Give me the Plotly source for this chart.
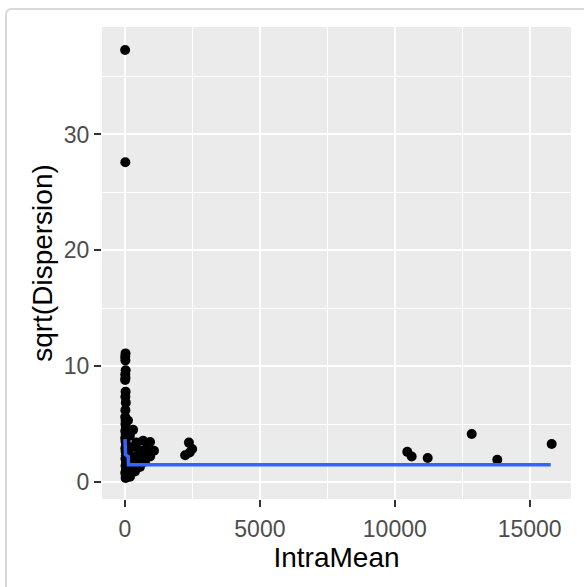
import plotly.graph_objects as go

# ---- data ----
col_x = [5, 12, 20, 8, 15, 25, 10, 18, 6, 22, 14, 30, 9, 26, 16, 35, 11, 28, 7, 19,
         40, 13, 24, 33, 17, 45, 21, 38, 10, 29, 50, 15, 42, 23]
col_y = [37.3, 27.6, 11.1, 10.8, 10.5, 9.65, 9.3, 9.0, 8.8, 7.8, 7.35, 6.85, 5.6, 5.3,
         5.0, 4.7, 4.4, 4.1, 3.8, 3.5, 3.2, 2.9, 2.6, 2.3, 2.0, 1.7, 1.4, 1.1, 0.8,
         0.55, 0.4, 6.2, 1.25, 0.35]

spread_x = [110, 300, 180, 670, 930, 1075, 420, 250, 800, 930, 740, 555, 370, 185,
            600, 400, 250, 450, 150, 300, 520, 700, 120]
spread_y = [5.3, 4.5, 4.0, 3.56, 3.45, 2.7, 3.4, 3.0, 2.9, 2.2, 1.75, 1.3, 0.9, 0.45,
            2.5, 2.2, 1.8, 1.7, 1.2, 1.4, 2.75, 2.3, 2.5]

mid_x = [2370, 2490, 2230, 2400]
mid_y = [3.4, 2.85, 2.3, 2.55]

far_x = [10463, 10626, 11219, 12850, 13799, 15815]
far_y = [2.6, 2.2, 2.07, 4.14, 1.92, 3.28]

smooth_x = [0, 20, 120, 130, 15780]
smooth_y = [3.7, 2.35, 2.2, 1.49, 1.49]

x_ticks = [0, 5000, 10000, 15000]
y_ticks = [0, 10, 20, 30]

xs = col_x + spread_x + mid_x + far_x
ys = col_y + spread_y + mid_y + far_y

FONT = "Arial, 'Liberation Sans', sans-serif"

fig = go.Figure()
fig.add_trace(go.Scatter(x=xs, y=ys, mode="markers",
                         marker=dict(color="black", size=10, line=dict(width=0)),
                         showlegend=False, hoverinfo="skip"))
fig.add_trace(go.Scatter(x=smooth_x, y=smooth_y, mode="lines",
                         line=dict(color="#3366FF", width=3.5),
                         showlegend=False, hoverinfo="skip"))

W, H = 584, 587
L, R, T, B = 102, 13, 27, 88
pw, ph = W - L - R, H - T - B

def px(xp):
    return (xp - L) / pw

def py(yp):
    return (H - B - yp) / ph

# rounded frame around the chart (extends beyond right/bottom edges)
x0, x1 = px(6), px(600)
y0, y1 = py(9), py(610)
rx, ry = 6 / pw, 6 / ph
path = (f"M {x0+rx},{y0} L {x1},{y0} L {x1},{y1} L {x0},{y1} L {x0},{y0-ry} "
        f"Q {x0},{y0} {x0+rx},{y0} Z")
fig.add_shape(type="path", path=path, xref="paper", yref="paper",
              line=dict(color="#D9D9D9", width=2), fillcolor="rgba(0,0,0,0)",
              layer="above")

axis_common = dict(
    showline=False, zeroline=False,
    gridcolor="white", gridwidth=2,
    ticks="outside", ticklen=7, tickwidth=2, tickcolor="#333333",
    tickfont=dict(family=FONT, size=23, color="#4D4D4D"),
)

fig.update_xaxes(range=[-852, 16531], tickmode="array", tickvals=x_ticks,
                 ticktext=[str(v) for v in x_ticks], ticklabelstandoff=2,
                 minor=dict(tickmode="array", tickvals=[2500, 7500, 12500],
                            showgrid=True, gridcolor="white", gridwidth=1, ticks=""),
                 title=dict(text="IntraMean", font=dict(family=FONT, size=28, color="black"),
                            standoff=5),
                 **axis_common)
fig.update_yaxes(range=[-1.47, 39.28], tickmode="array", tickvals=y_ticks,
                 ticktext=[str(v) for v in y_ticks],
                 minor=dict(tickmode="array", tickvals=[5, 15, 25, 35],
                            showgrid=True, gridcolor="white", gridwidth=1, ticks=""),
                 title=dict(text="sqrt(Dispersion)", font=dict(family=FONT, size=28, color="black"),
                            standoff=3),
                 **axis_common)

fig.update_layout(width=W, height=H, autosize=False,
                  margin=dict(l=L, r=R, t=T, b=B, pad=0),
                  paper_bgcolor="white", plot_bgcolor="#EBEBEB",
                  font=dict(family=FONT))

fig.write_html("out.html")
